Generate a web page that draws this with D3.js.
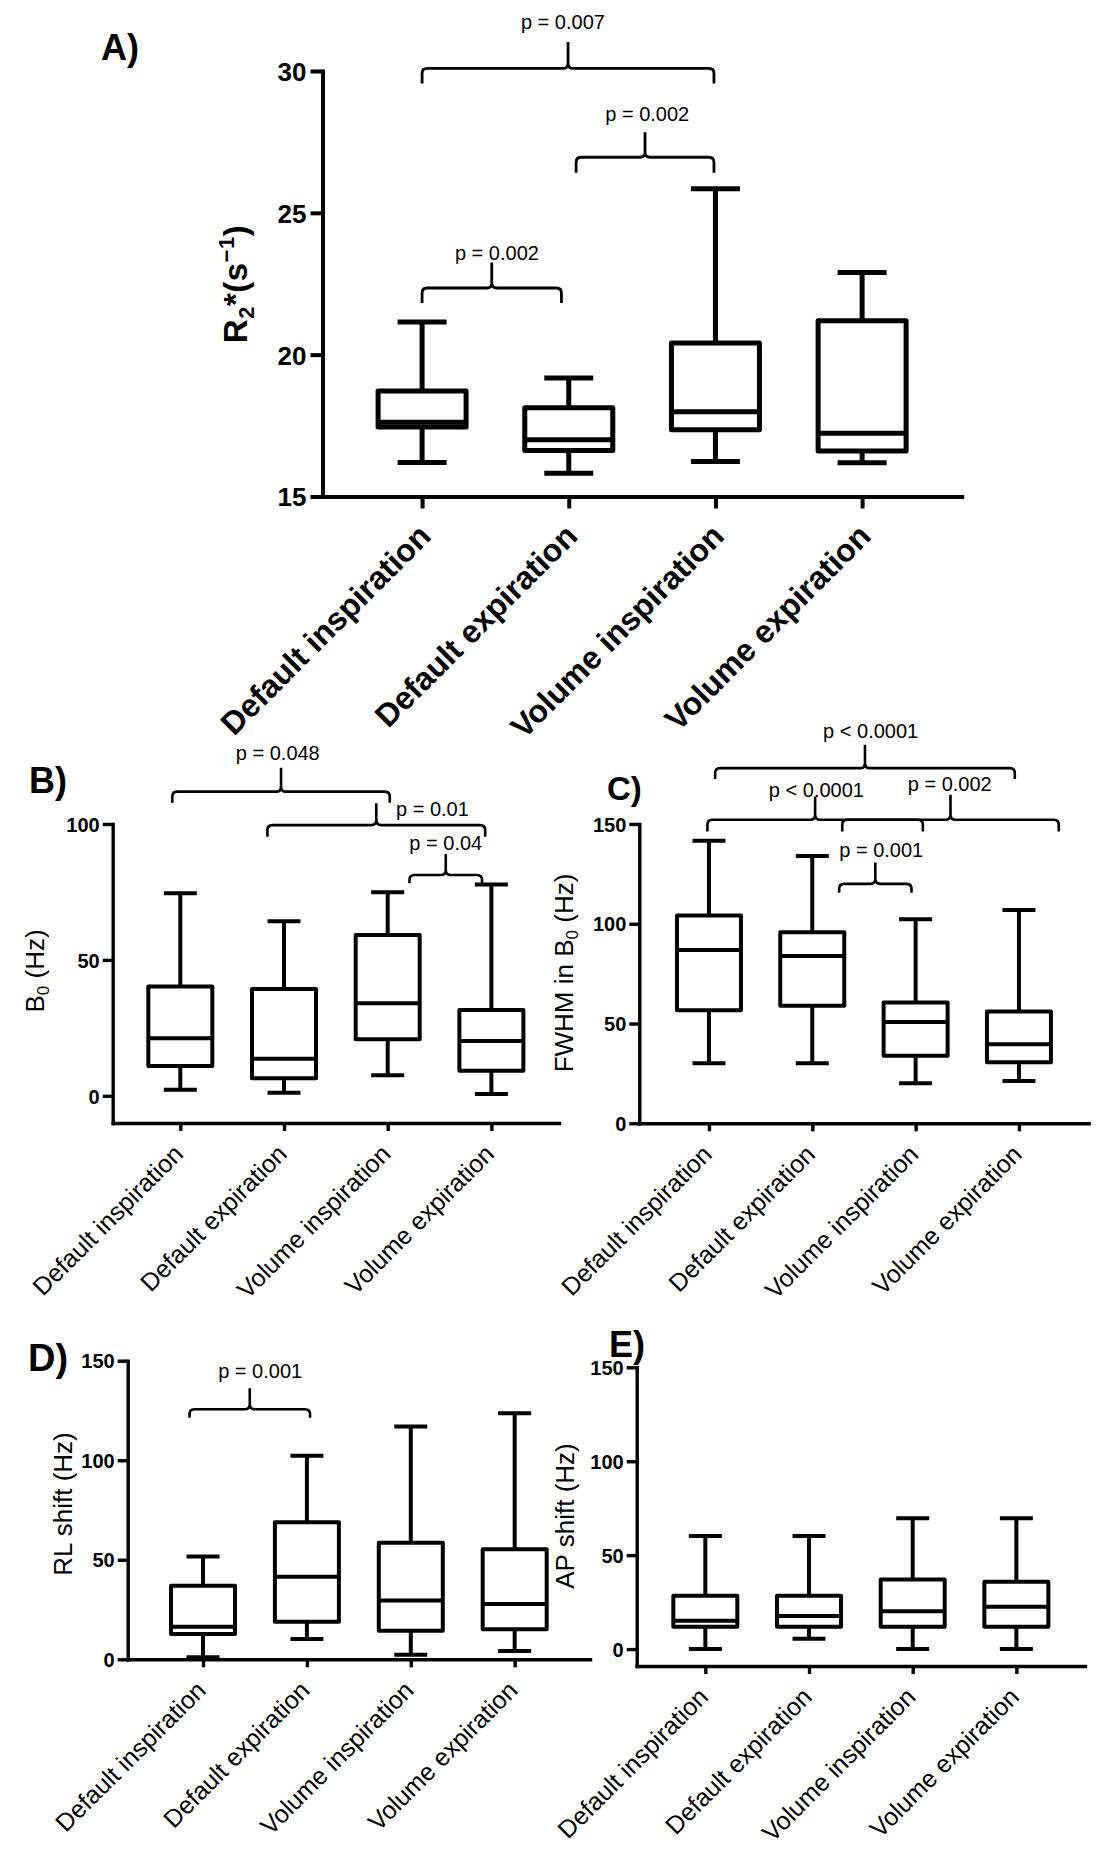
<!DOCTYPE html>
<html><head><meta charset="utf-8">
<script src="https://cdn.jsdelivr.net/npm/d3@7"></script>
<style>body{margin:0;background:#fff}svg{display:block}</style>
</head><body>
<svg id="chart" width="1104" height="1866"></svg>
<script>
const categories = ["Default inspiration","Default expiration","Volume inspiration","Volume expiration"];

// five-number summaries: [min, Q1, median, Q3, max]
const r2Stats = [
  [16.2, 17.45, 17.62, 18.72, 21.15],
  [15.82, 16.62, 17.0, 18.13, 19.18],
  [16.23, 17.35, 17.99, 20.41, 25.85],
  [16.19, 16.6, 17.23, 21.2, 22.9]
];
const b0Stats = [
  [2.2, 11.0, 21.2, 40.2, 74.5],
  [1.1, 6.5, 13.6, 39.3, 64.2],
  [7.6, 20.8, 34.1, 59.2, 74.9],
  [0.7, 9.2, 20.2, 31.6, 77.7]
];
const fwhmStats = [
  [30.1, 56.7, 86.8, 104.2, 141.6],
  [30.1, 58.9, 83.9, 95.8, 134.0],
  [20.1, 33.9, 50.8, 60.5, 102.3],
  [21.2, 30.6, 39.6, 56.0, 106.9]
];
const rlStats = [
  [1.0, 12.7, 16.4, 37.0, 51.6],
  [10.2, 18.9, 41.5, 68.8, 102.3],
  [2.3, 14.4, 29.5, 58.6, 116.9],
  [4.2, 15.1, 27.8, 55.3, 123.6]
];
const apStats = [
  [0, 11.9, 15.1, 28.4, 60.2],
  [5.5, 11.9, 17.6, 28.4, 60.2],
  [0, 11.9, 20.2, 37.1, 69.6],
  [0, 11.9, 22.5, 35.9, 69.6]
];

const r2Ticks = [15, 20, 25, 30];
const b0Ticks = [0, 50, 100];
const hzTicks = [0, 50, 100, 150];

// significance brackets (category index units, value units)
const r2Brackets = [
  {from:0, to:1.99, y:30.09, end:29.56, stem:31.02, label:"p = 0.007", at:0.96, labelY:31.47, anchor:"middle"},
  {from:1.05, to:1.99, y:26.96, end:26.41, stem:27.84, label:"p = 0.002", at:1.535, labelY:28.23, anchor:"middle"},
  {from:0, to:0.95, y:22.35, end:21.82, stem:23.25, label:"p = 0.002", at:0.51, labelY:23.35, anchor:"middle"}
];
const b0Brackets = [
  {from:-0.077, to:2.02, y:111.9, end:107.8, stem:120.7, label:"p = 0.048", at:0.94, labelY:123.5, anchor:"middle"},
  {from:0.84, to:2.94, y:99.6, end:95.3, stem:107.6, label:"p = 0.01", at:2.08, labelY:102.9, anchor:"start"},
  {from:2.21, to:2.91, y:81.25, end:78.2, stem:89.0, label:"p = 0.04", at:2.56, labelY:90.4, anchor:"middle"}
];
const fwhmBrackets = [
  {from:0.06, to:2.96, y:178, end:172.5, stem:189.7, label:"p < 0.0001", at:1.565, labelY:193.1, anchor:"middle"},
  {from:-0.015, to:2.07, y:152.1, end:146.2, stem:163.8, label:"p < 0.0001", at:1.04, labelY:163.5, anchor:"middle"},
  {from:1.29, to:3.385, y:152.1, end:146.2, stem:164.6, label:"p = 0.002", at:2.33, labelY:166.3, anchor:"middle"},
  {from:1.26, to:1.96, y:120, end:115.6, stem:130.7, label:"p = 0.001", at:1.667, labelY:133.7, anchor:"middle"}
];
const rlBrackets = [
  {from:-0.13, to:1.03, y:125.6, end:121.4, stem:136.2, label:"p = 0.001", at:0.55, labelY:141.2, anchor:"middle"}
];
const apBrackets = [];

const FONT = "'Liberation Sans', Arial, Helvetica, sans-serif";
const svg = d3.select("#chart");
svg.append("rect").attr("width",1104).attr("height",1866).attr("fill","#fff");

const panels = [
  {letter:"A)", stats:r2Stats, ticks:r2Ticks, brackets:r2Brackets, domain:[15,30],
   left:322.5, right:961.7, top:71, bottom:496.5, pad:0.679, big:true,
   letterPos:[101,60], letterSize:36, titleX:247, titleY:284},
  {letter:"B)", stats:b0Stats, ticks:b0Ticks, brackets:b0Brackets, domain:[-10,100],
   left:112.7, right:559, top:824, bottom:1123, pad:0.652, big:false,
   letterPos:[29,793], letterSize:36, titleX:44, titleY:971},
  {letter:"C)", stats:fwhmStats, ticks:hzTicks, brackets:fwhmBrackets, domain:[0,150],
   left:639.3, right:1088.6, top:824, bottom:1123.3, pad:0.674, big:false,
   letterPos:[607,800], letterSize:33, titleX:573, titleY:973},
  {letter:"D)", stats:rlStats, ticks:hzTicks, brackets:rlBrackets, domain:[0,150],
   left:127.7, right:590, top:1360.7, bottom:1659.3, pad:0.725, big:false,
   letterPos:[28,1371], letterSize:38, titleX:72, titleY:1504},
  {letter:"E)", stats:apStats, ticks:hzTicks, brackets:apBrackets, domain:[-9,150],
   left:636.7, right:1085, top:1367.3, bottom:1666, pad:0.662, big:false,
   letterPos:[609,1357], letterSize:36, titleX:574, titleY:1516}
];

const titles = [
  [{t:"R"},{t:"2",size:22,dy:7},{t:"*(s",dy:-7},{t:"\u22121",size:22,dy:-13},{t:")",dy:13}],
  [{t:"B"},{t:"0",size:17,dy:5},{t:" (Hz)",dy:-5}],
  [{t:"FWHM in B"},{t:"0",size:17,dy:5},{t:" (Hz)",dy:-5}],
  [{t:"RL shift (Hz)"}],
  [{t:"AP shift (Hz)"}]
];

function bracketPath(x1, x2, yh, ye, xs, ys, r) {
  return `M${x1},${ye} L${x1},${yh + r} Q${x1},${yh} ${x1 + r},${yh} L${xs - r},${yh} Q${xs},${yh} ${xs},${yh - r} L${xs},${ys}` +
         ` M${xs},${yh - r} Q${xs},${yh} ${xs + r},${yh} L${x2 - r},${yh} Q${x2},${yh} ${x2},${yh + r} L${x2},${ye}`;
}

panels.forEach((p, pi) => {
  const g = svg.append("g");
  const big = p.big;
  const x = d3.scalePoint().domain(categories).range([p.left, p.right]).padding(p.pad);
  const y = d3.scaleLinear().domain(p.domain).range([p.bottom, p.top]);
  const xi = d3.scaleLinear().domain([0, categories.length - 1])
    .range([x(categories[0]), x(categories[categories.length - 1])]);
  const sw = big ? 5 : 4, axisW = big ? 4 : 3.4;
  const bw = big ? 88 : 64, cw = big ? 49 : 33;

  // y axis
  const ya = g.append("g").attr("transform", `translate(${p.left},0)`)
    .call(d3.axisLeft(y).tickValues(p.ticks).tickSize(big ? 12 : 10).tickSizeOuter(0).tickPadding(big ? 4 : 3).tickFormat(d3.format("d")));
  ya.select(".domain").attr("stroke", "#000").attr("stroke-width", axisW).attr("stroke-linecap", "square");
  ya.selectAll(".tick line").attr("stroke", "#000").attr("stroke-width", axisW);
  ya.selectAll(".tick text").attr("font-family", FONT).attr("font-weight", "bold")
    .attr("font-size", big ? 26 : 20).attr("fill", "#000").attr("dy", "0.36em");

  // x axis
  const xa = g.append("g").attr("transform", `translate(0,${p.bottom})`)
    .call(d3.axisBottom(x).tickSize(big ? 12 : 8).tickSizeOuter(0));
  xa.select(".domain").attr("stroke", "#000").attr("stroke-width", axisW).attr("stroke-linecap", "square");
  xa.selectAll(".tick line").attr("stroke", "#000").attr("stroke-width", axisW);
  xa.selectAll(".tick text")
    .attr("x", 0).attr("y", 0).attr("dy", 0)
    .attr("text-anchor", "end")
    .attr("transform", big ? "translate(10,41.5) rotate(-45)" : "translate(3.8,32.5) rotate(-45)")
    .attr("font-family", FONT).attr("font-weight", big ? "bold" : "normal")
    .attr("font-size", big ? 32 : 25).attr("fill", "#000");

  // boxes
  const bx = g.selectAll("g.box").data(p.stats).join("g").attr("class", "box")
    .attr("fill", "none").attr("stroke", "#000").attr("stroke-width", sw);
  bx.append("line").attr("x1", (d, i) => x(categories[i])).attr("x2", (d, i) => x(categories[i]))
    .attr("y1", d => y(d[0])).attr("y2", d => y(d[1]));
  bx.append("line").attr("x1", (d, i) => x(categories[i])).attr("x2", (d, i) => x(categories[i]))
    .attr("y1", d => y(d[3])).attr("y2", d => y(d[4]));
  bx.append("line").attr("x1", (d, i) => x(categories[i]) - cw / 2).attr("x2", (d, i) => x(categories[i]) + cw / 2)
    .attr("y1", d => y(d[0])).attr("y2", d => y(d[0]));
  bx.append("line").attr("x1", (d, i) => x(categories[i]) - cw / 2).attr("x2", (d, i) => x(categories[i]) + cw / 2)
    .attr("y1", d => y(d[4])).attr("y2", d => y(d[4]));
  bx.append("rect").attr("x", (d, i) => x(categories[i]) - bw / 2).attr("width", bw)
    .attr("y", d => y(d[3])).attr("height", d => y(d[1]) - y(d[3]))
    .attr("fill", "#fff").attr("stroke-linejoin", "round");
  bx.append("line").attr("x1", (d, i) => x(categories[i]) - bw / 2).attr("x2", (d, i) => x(categories[i]) + bw / 2)
    .attr("y1", d => y(d[2])).attr("y2", d => y(d[2]));

  // brackets
  const br = g.selectAll("g.br").data(p.brackets).join("g").attr("class", "br");
  br.append("path")
    .attr("d", d => bracketPath(xi(d.from), xi(d.to), y(d.y), y(d.end), (xi(d.from) + xi(d.to)) / 2, y(d.stem), 5))
    .attr("fill", "none").attr("stroke", "#000").attr("stroke-width", big ? 2.8 : 2.6);
  br.append("text").attr("x", d => xi(d.at)).attr("y", d => y(d.labelY))
    .attr("text-anchor", d => d.anchor)
    .attr("font-family", FONT).attr("font-size", big ? 20 : 20).attr("fill", "#000")
    .text(d => d.label);

  // panel letter
  g.append("text").attr("x", p.letterPos[0]).attr("y", p.letterPos[1])
    .attr("font-family", FONT).attr("font-weight", "bold").attr("font-size", p.letterSize)
    .attr("fill", "#000").text(p.letter);

  // y title
  const tt = g.append("text").attr("transform", `translate(${p.titleX},${p.titleY}) rotate(-90)`)
    .attr("text-anchor", "middle").attr("font-family", FONT)
    .attr("font-weight", big ? "bold" : "normal").attr("font-size", big ? 33 : 26).attr("fill", "#000")
    .attr("letter-spacing", big ? 0.5 : 0);
  titles[pi].forEach(s => {
    const ts = tt.append("tspan").text(s.t);
    if (s.size) ts.attr("font-size", s.size);
    if (s.dy) ts.attr("dy", s.dy);
  });
});
</script>
</body></html>
